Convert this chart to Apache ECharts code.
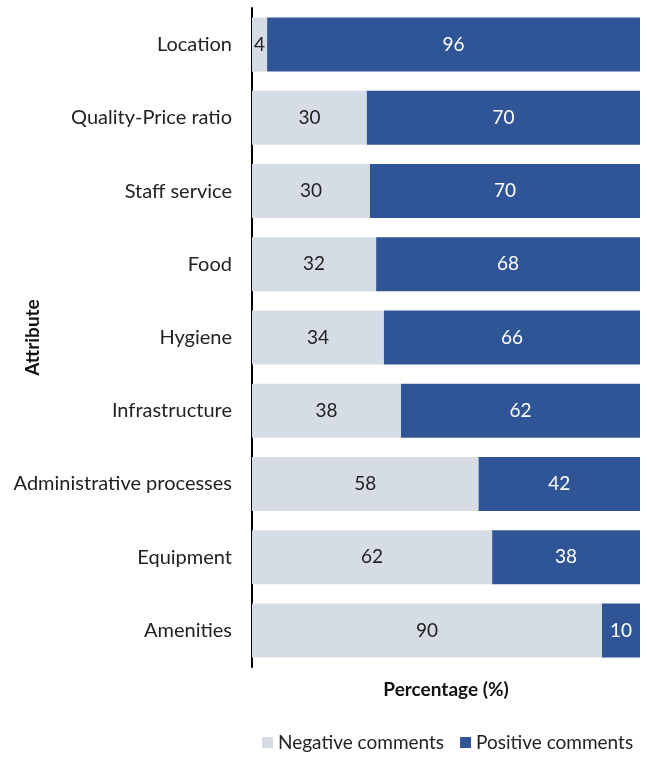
<!DOCTYPE html>
<html><head><meta charset="utf-8">
<script src="https://cdn.jsdelivr.net/npm/echarts@6/dist/echarts.min.js"></script>
<style>html,body{margin:0;padding:0;background:#fff}#c{width:647px;height:758px}</style>
</head><body><div id="c"></div>
<script>
const categories = ["Location","Quality-Price ratio","Staff service","Food","Hygiene","Infrastructure","Administrative processes","Equipment","Amenities"];
const negative = [3.9, 29.6, 30.4, 32.0, 34.0, 38.4, 58.4, 61.9, 90.2];
const positive = [96.1, 70.4, 69.6, 68.0, 66.0, 61.6, 41.6, 38.1, 9.8];
const FONT = "Lato, 'Open Sans', sans-serif";
const chart = echarts.init(document.getElementById('c'));
chart.setOption({
  animation: false,
  textStyle: {fontFamily: FONT},
  grid: {left: 252, right: 7, top: 8, bottom: 91, containLabel: false, outerBoundsMode: 'none'},
  legend: {
    bottom: 1, left: 257, itemWidth: 11, itemHeight: 11, itemGap: 16,
    icon: 'rect',
    textStyle: {fontSize: 19, color: '#222', fontFamily: FONT},
    data: ['Negative comments','Positive comments']
  },
  xAxis: {
    type: 'value', min: 0, max: 100,
    axisLine: {show: false}, axisTick: {show: false}, axisLabel: {show: false}, splitLine: {show: false},
    name: 'Percentage (%)', nameLocation: 'middle', nameGap: 13,
    nameTextStyle: {fontSize: 19, fontWeight: 'bold', color: '#111', fontFamily: FONT}
  },
  yAxis: {
    type: 'category', data: categories, inverse: true,
    axisLine: {show: true, lineStyle: {color: '#000', width: 2}},
    axisTick: {show: false},
    axisLabel: {fontSize: 20, color: '#222', margin: 20, fontFamily: FONT},
    name: 'Attribute', nameLocation: 'middle', nameGap: 210, nameRotate: 90, nameMoveOverlap: false,
    nameTextStyle: {fontSize: 19, fontWeight: 'bold', color: '#111', fontFamily: FONT}
  },
  series: [
    {name: 'Negative comments', type: 'bar', stack: 'a', data: negative, barWidth: 54,
     itemStyle: {color: '#D6DCE5'},
     label: {show: true, position: 'inside', fontSize: 19, color: '#222', formatter: p => Math.round(p.value)}},
    {name: 'Positive comments', type: 'bar', stack: 'a', data: positive, barWidth: 54,
     itemStyle: {color: '#2F5597'},
     label: {show: true, position: 'inside', fontSize: 19, color: '#fff', formatter: p => Math.round(p.value)}}
  ]
});
</script></body></html>
